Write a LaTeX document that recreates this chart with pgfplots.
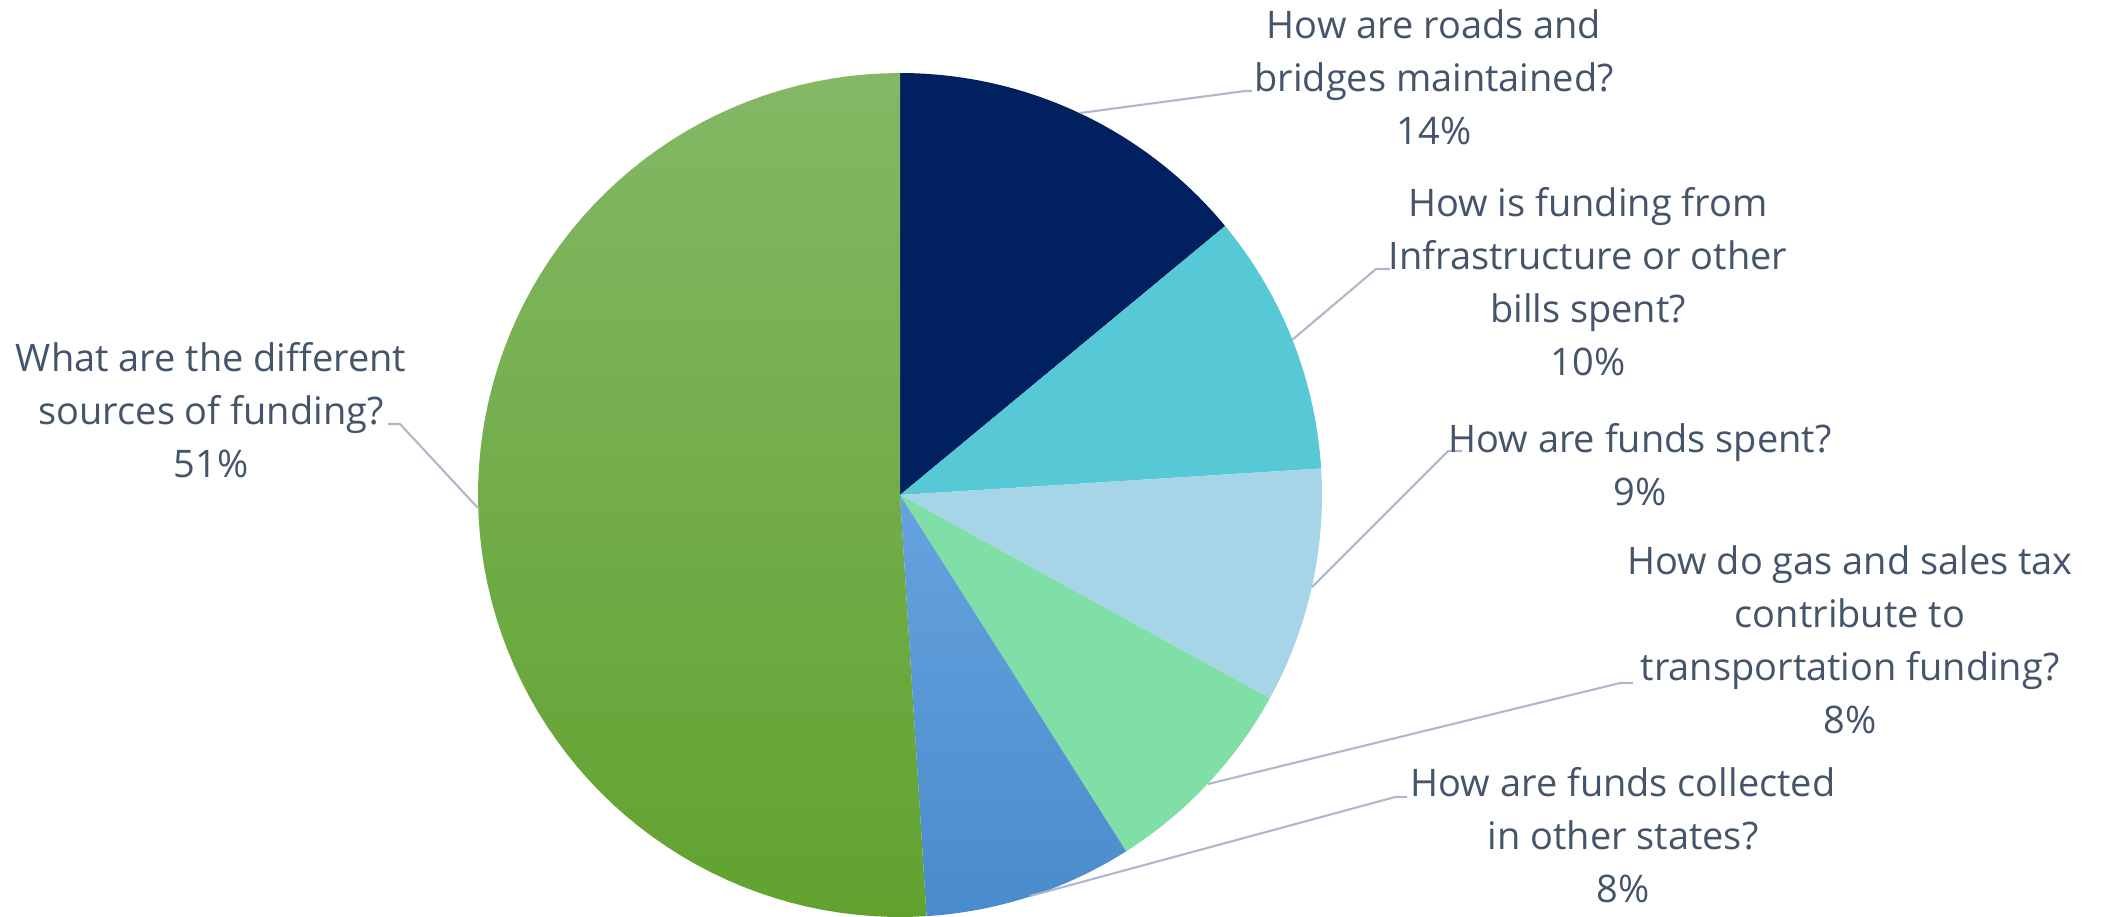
\documentclass[border=0pt]{standalone}
\usepackage{pgfplots}
\pgfplotsset{compat=1.18}
\usepackage{fontspec}
\setmainfont{Open Sans}

\definecolor{txt}{HTML}{44546A}
\definecolor{leader}{HTML}{ADB9CA}
\definecolor{navy}{HTML}{002060}
\definecolor{cyan1}{HTML}{57C8D6}
\definecolor{lblue}{HTML}{A7D5E8}
\definecolor{mint}{HTML}{80DEA7}
\definecolor{blueT}{HTML}{66A3DF}
\definecolor{blueB}{HTML}{4A8BCB}
\definecolor{greenT}{HTML}{84B865}
\definecolor{greenB}{HTML}{61A22F}

% anchor=base sits on the last line of a multi-line node
\tikzset{lbl/.style={align=center, anchor=base, inner sep=0pt, text=txt,
    font=\fontsize{10.8}{15}\selectfont}}

% pie centre and radius in picture pixels
\def\cx{900}
\def\cy{495}
\def\rr{422}

% slice from cumulative percent #1 to #2
\newcommand{\slice}[3]{%
  \addplot[draw=none, #3, domain=#1:#2, samples=80, variable=\t]
    ({\cx+\rr*sin(3.6*\t)}, {\cy-\rr*cos(3.6*\t)}) -- (\cx,\cy) -- cycle;
}

\begin{document}
\begin{tikzpicture}
\begin{axis}[
    width=21.03cm, height=9.16cm,
    scale only axis,
    xmin=0, xmax=2103,
    ymin=0, ymax=916,
    y dir=reverse,
    hide axis,
    clip=false,
]
% values: 14, 10, 9, 8, 8, 51 (percent), cumulative below
\slice{0}{14}{fill=navy}
\slice{14}{24}{fill=cyan1}
\slice{24}{33}{fill=lblue}
\slice{33}{41}{fill=mint}
\slice{41}{49}{top color=blueT, bottom color=blueB}
\slice{49}{100}{top color=greenT, bottom color=greenB}

% leader lines
\addplot[leader, line width=0.6pt] coordinates {(1080,113) (1245,91) (1252,91)};
\addplot[leader, line width=0.6pt] coordinates {(1292,340) (1376,269) (1390,269)};
\addplot[leader, line width=0.6pt] coordinates {(1312,587) (1448,451) (1462,451)};
\addplot[leader, line width=0.6pt] coordinates {(1208,784) (1620,683) (1633,683)};
\addplot[leader, line width=0.6pt] coordinates {(1030,896) (1395,797) (1407,797)};
\addplot[leader, line width=0.6pt] coordinates {(478,508) (400,424) (388,424)};

% labels (positioned by the baseline of their last line)
\node[lbl] at (axis cs:1434,144) {How are roads and\\bridges maintained?\\14\%};
\node[lbl] at (axis cs:1588,375) {How is funding from\\Infrastructure or other\\bills spent?\\10\%};
\node[lbl] at (axis cs:1640,505) {How are funds spent?\\9\%};
\node[lbl] at (axis cs:1850,733) {How do gas and sales tax\\contribute to\\transportation funding?\\8\%};
\node[lbl] at (axis cs:1623,902) {How are funds collected\\in other states?\\8\%};
\node[lbl] at (axis cs:211,477) {What are the different\\sources of funding?\\51\%};

\path (rel axis cs:0,0) rectangle (rel axis cs:1,1);
\end{axis}
\end{tikzpicture}
\end{document}
